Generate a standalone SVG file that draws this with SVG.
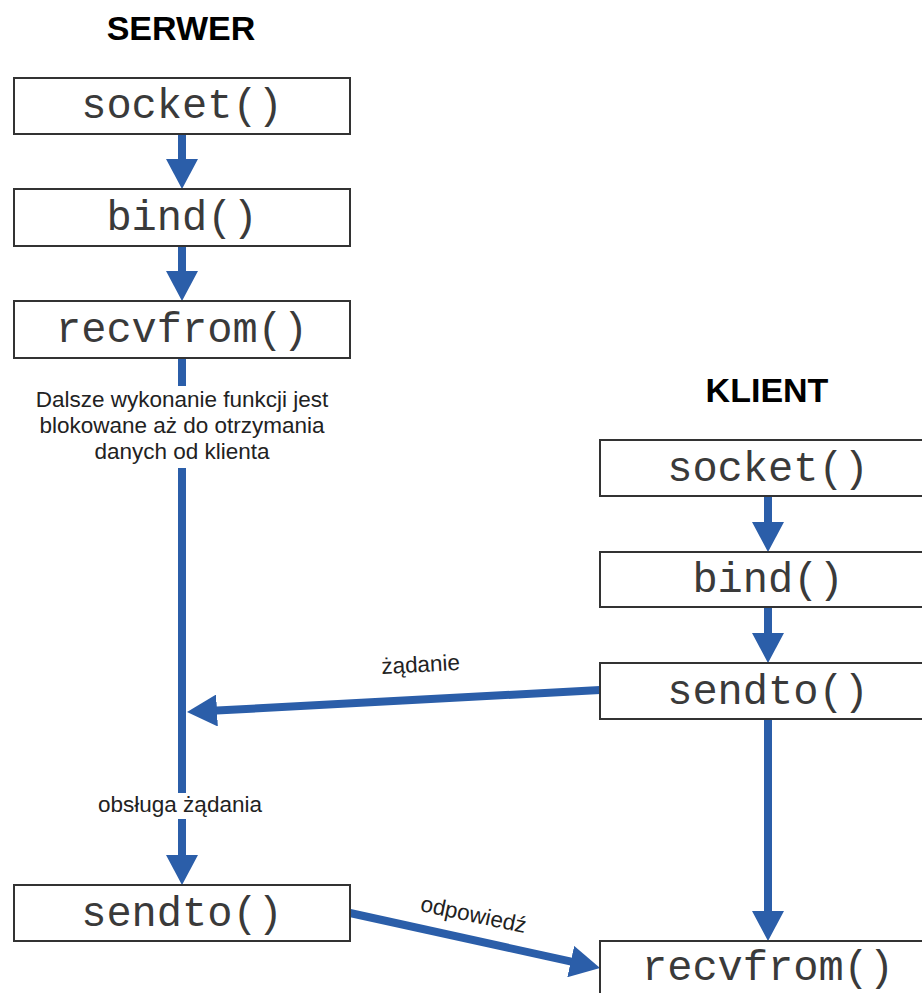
<svg xmlns="http://www.w3.org/2000/svg" width="922" height="993" viewBox="0 0 922 993">
  <defs>
    <style>
      .box { fill: #ffffff; stroke: #333333; stroke-width: 2; }
      .fn { font-family: "Liberation Mono", "Courier New", monospace; font-size: 42px; fill: #3a3a3a; text-anchor: middle; }
      .title { font-family: "Liberation Sans", Arial, sans-serif; font-size: 34px; font-weight: bold; fill: #000000; text-anchor: middle; }
      .note { font-family: "Liberation Sans", Arial, sans-serif; font-size: 22.5px; fill: #222222; text-anchor: middle; }
      .flow { fill: none; stroke: #2b5ea9; stroke-width: 8; marker-end: url(#head); }
      .seg { fill: none; stroke: #2b5ea9; stroke-width: 8; }
    </style>
    <marker id="head" markerUnits="userSpaceOnUse" markerWidth="30" markerHeight="32" refX="10" refY="16" orient="auto" viewBox="0 0 30 32">
      <path d="M0,0 L30,16 L0,32 Z" fill="#2b5ea9"/>
    </marker>
  </defs>

  <rect width="922" height="993" fill="#ffffff"/>

  <!-- column titles -->
  <text class="title" x="181" y="40">SERWER</text>
  <text class="title" x="767" y="402">KLIENT</text>

  <!-- connectors -->
  <g id="connectors">
    <!-- server column -->
    <path class="flow" d="M182,134 L182,169"/>
    <path class="flow" d="M182,246 L182,281"/>
    <path class="seg" d="M182,358 L182,386"/>
    <path class="seg" d="M182,468 L182,793"/>
    <path class="flow" d="M182,819 L182,865"/>
    <!-- client column -->
    <path class="flow" d="M768,496 L768,532"/>
    <path class="flow" d="M768,607 L768,643"/>
    <path class="flow" d="M768,719 L768,921"/>
    <!-- request: client sendto -> server -->
    <path class="flow" d="M600,690 L207,711"/>
    <!-- reply: server sendto -> client recvfrom -->
    <path class="flow" d="M350,913 L580.5,963.7"/>

    <text class="note" x="180" y="812">obsługa żądania</text>
    <text class="note" transform="translate(421,672) rotate(-3)">żądanie</text>
    <text class="note" transform="translate(472,922) rotate(12)">odpowiedź</text>
    <text class="note" x="182" y="407">Dalsze wykonanie funkcji jest</text>
    <text class="note" x="182" y="433">blokowane aż do otrzymania</text>
    <text class="note" x="182" y="459">danych od klienta</text>
  </g>

  <!-- server nodes -->
  <g id="srv-socket">
    <rect class="box" x="14" y="78" width="336" height="56"/>
    <text class="fn" x="182" y="118">socket()</text>
  </g>
  <g id="srv-bind">
    <rect class="box" x="14" y="189" width="336" height="57"/>
    <text class="fn" x="182" y="230">bind()</text>
  </g>
  <g id="srv-recvfrom">
    <rect class="box" x="14" y="301" width="336" height="57"/>
    <text class="fn" x="182" y="342">recvfrom()</text>
  </g>
  <g id="srv-sendto">
    <rect class="box" x="14" y="885" width="336" height="56"/>
    <text class="fn" x="182" y="926">sendto()</text>
  </g>

  <!-- client nodes -->
  <g id="cli-socket">
    <rect class="box" x="600" y="440" width="336" height="56"/>
    <text class="fn" x="768" y="481">socket()</text>
  </g>
  <g id="cli-bind">
    <rect class="box" x="600" y="552" width="336" height="55"/>
    <text class="fn" x="768" y="592">bind()</text>
  </g>
  <g id="cli-sendto">
    <rect class="box" x="600" y="663" width="336" height="56"/>
    <text class="fn" x="768" y="704">sendto()</text>
  </g>
  <g id="cli-recvfrom">
    <rect class="box" x="600" y="941" width="336" height="56"/>
    <text class="fn" x="768" y="980">recvfrom()</text>
  </g>
</svg>
